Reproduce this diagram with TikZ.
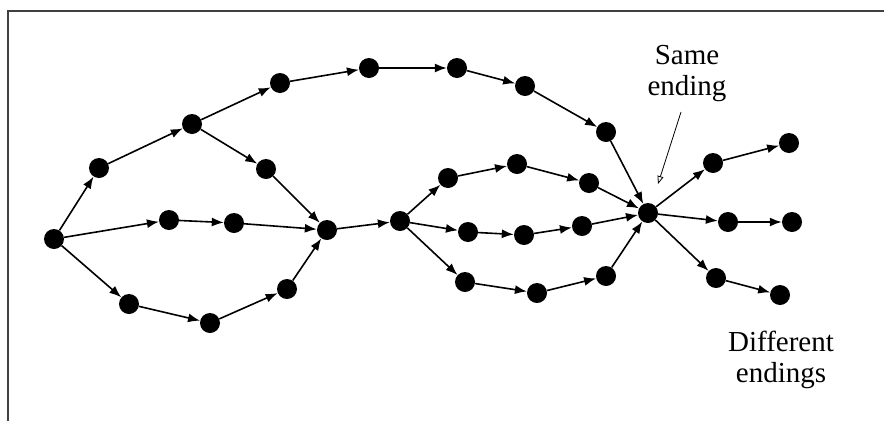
\documentclass[tikz,border=0pt]{standalone}
\usepackage{fontspec}
\setmainfont{Liberation Serif}
\usetikzlibrary{arrows.meta}
\tikzset{dot/.style={circle, fill=black, minimum size=20pt, inner sep=0pt},
  pin/.style={-{Latex[length=12pt,width=9pt]}, line width=1.6pt},
  lbl/.style={font=\fontsize{29}{31}\selectfont, align=center, inner sep=0pt}}

\begin{document}
\begin{tikzpicture}[x=1pt, y=-1pt]
  \useasboundingbox (0,0) rectangle (884,421);
  % frame
  \draw[line width=1.5pt, black!75] (8,421) -- (8,11) -- (884,11);
  % start and first loop
  \node[dot] (s) at (54,239) {};
  \node[dot] (u1) at (99,168) {};
  \node[dot] (u2) at (192,124) {};
  \node[dot] (u3) at (280,83) {};
  \node[dot] (u4) at (369,68) {};
  \node[dot] (u5) at (457,68) {};
  \node[dot] (u6) at (525,86) {};
  \node[dot] (u7) at (606,132) {};
  \node[dot] (a1) at (266,169) {};
  \node[dot] (c1) at (169,220) {};
  \node[dot] (c2) at (234,223) {};
  \node[dot] (l1) at (129,304) {};
  \node[dot] (l2) at (210,323) {};
  \node[dot] (l3) at (287,289) {};
  \node[dot] (m) at (327,230) {};
  % second loop
  \node[dot] (k) at (400,221) {};
  \node[dot] (p1) at (448,178) {};
  \node[dot] (p2) at (517,164) {};
  \node[dot] (p3) at (589,183) {};
  \node[dot] (q1) at (468,232) {};
  \node[dot] (q2) at (524,235) {};
  \node[dot] (q3) at (582,226) {};
  \node[dot] (r1) at (465,282) {};
  \node[dot] (r2) at (537,293) {};
  \node[dot] (r3) at (606,276) {};
  \node[dot] (hub) at (648,213) {};
  % endings
  \node[dot] (o1) at (713,163) {};
  \node[dot] (o2) at (789,143) {};
  \node[dot] (o3) at (728,222) {};
  \node[dot] (o4) at (792,222) {};
  \node[dot] (o5) at (716,278) {};
  \node[dot] (o6) at (780,295) {};
  \foreach \a/\b in {s/u1,u1/u2,u2/u3,u3/u4,u4/u5,u5/u6,u6/u7,u7/hub,
    u2/a1,a1/m,s/c1,c1/c2,c2/m,s/l1,l1/l2,l2/l3,l3/m,m/k,
    k/p1,p1/p2,p2/p3,p3/hub,k/q1,q1/q2,q2/q3,q3/hub,k/r1,r1/r2,r2/r3,r3/hub,
    hub/o1,o1/o2,hub/o3,o3/o4,hub/o5,o5/o6}
    \draw[pin] (\a) -- (\b);
  % labels
  \node[lbl] (same) at (687,74) {Same\\ending};
  \node[lbl] (diff) at (781,360) {Different\\endings};
  \coordinate (tail) at (681,112);
  \coordinate (tip) at (658,184);
  \draw[-{Triangle[open,length=8pt,width=6pt]}, line width=0.8pt] (tail) -- (tip);
\end{tikzpicture}
\end{document}
